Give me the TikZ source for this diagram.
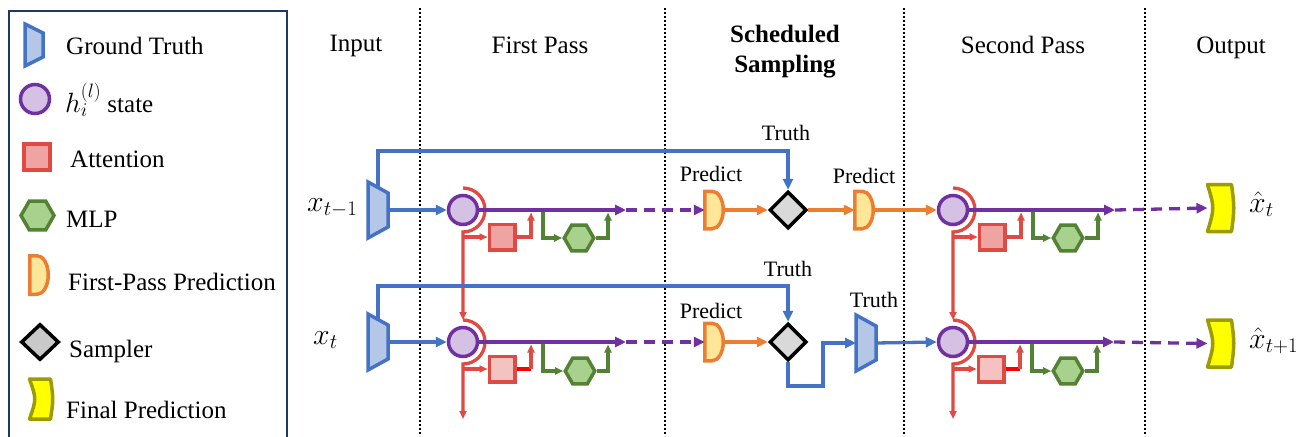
\documentclass[tikz,border=0pt]{standalone}
\usepackage{fontspec}
\setmainfont{Liberation Serif}
\usetikzlibrary{arrows.meta,shapes.geometric,calc}

\definecolor{gtblue}{HTML}{4472C4}
\definecolor{gtfill}{HTML}{B4C7E7}
\definecolor{hpurple}{HTML}{7030A0}
\definecolor{hfill}{HTML}{D5C1E4}
\definecolor{attred}{HTML}{DF4B43}
\definecolor{attfill}{HTML}{F0A3A3}
\definecolor{attfillB}{HTML}{F4C3C1}
\definecolor{hotred}{HTML}{FF0000}
\definecolor{mlpgreen}{HTML}{548235}
\definecolor{mlpfill}{HTML}{A9D18E}
\definecolor{fporange}{HTML}{ED7D31}
\definecolor{fpfill}{HTML}{FFE699}
\definecolor{sampfill}{HTML}{D9D9D9}
\definecolor{sampfillL}{HTML}{C9C9C9}
\definecolor{finyellow}{HTML}{FFFF00}
\definecolor{finolive}{HTML}{9C9C00}
\definecolor{legnavy}{HTML}{203864}

\tikzset{
  tipM/.tip={Triangle[length=11pt,width=10pt]},
  tipS/.tip={Triangle[length=8pt,width=7pt]},
  conn/.style={line width=3.3pt},
  blueline/.style={conn, draw=gtblue},
  purpleline/.style={conn, draw=hpurple},
  dashpurple/.style={conn, draw=hpurple, dash pattern=on 11pt off 7pt},
  orangeline/.style={conn, draw=fporange},
  redline/.style={conn, draw=attred},
  greenline/.style={conn, draw=mlpgreen},
  sepline/.style={line width=2pt, draw=black, dash pattern=on 2pt off 2pt},
  anchorbox/.style={inner sep=0pt, outer sep=0pt, draw=none},
  gtbox/.style={anchorbox, minimum width=20pt, minimum height=56pt},
  fpbox/.style={anchorbox, minimum width=18.5pt, minimum height=37.5pt},
  finalbox/.style={anchorbox, minimum width=24pt, minimum height=47pt},
  hstate/.style={circle, draw=hpurple, fill=hfill, line width=3.5pt, minimum size=29pt, inner sep=0pt},
  attbox/.style={rectangle, draw=attred, fill=attfill, line width=3.5pt, minimum size=25.5pt, inner sep=0pt},
  mlpbox/.style={regular polygon, regular polygon sides=6, draw=mlpgreen, fill=mlpfill, line width=3.5pt, minimum size=29.5pt, inner sep=0pt},
  sampbox/.style={diamond, draw=black, fill=sampfill, line width=3.5pt, minimum width=37pt, minimum height=37pt, inner sep=0pt},
  gtstroke/.style={draw=gtblue, fill=gtfill, line width=3.5pt},
  fpstroke/.style={draw=fporange, fill=fpfill, line width=3.5pt},
  finstroke/.style={draw=finolive, fill=finyellow, line width=3.5pt, line join=round},
  hdr/.style={font=\fontsize{25}{30}\selectfont, anchor=base, inner sep=0pt},
  lbl/.style={font=\fontsize{22}{26}\selectfont, anchor=base, inner sep=0pt},
  leg/.style={font=\fontsize{25}{30}\selectfont, anchor=base west, inner sep=0pt},
  mathlbl/.style={font=\fontsize{25}{30}\selectfont, anchor=base west, inner sep=0pt},
}

% ground-truth trapezoid: tall left side, right side cut by #2 at both ends
\newcommand\gtdraw[2]{\draw[gtstroke] (#1.north west) -- ([yshift=-#2pt]#1.north east)
  -- ([yshift=#2pt]#1.south east) -- (#1.south west) -- cycle;}
% first-pass prediction: flat left side, half-ellipse on the right
\newcommand\fpdraw[2]{\draw[fpstroke] (#1.north west) -- ([xshift=7.5pt]#1.north west)
  arc[x radius=11pt, y radius=#2pt, start angle=90, end angle=-90] -- (#1.south west) -- cycle;}
% final prediction: band bowed to the right
\newcommand\findraw[1]{\draw[finstroke] (#1.north west) -- (#1.north east)
  .. controls ([xshift=3pt]#1.east) .. (#1.south east) -- (#1.south west)
  .. controls ([xshift=7pt]#1.west) .. (#1.north west) -- cycle;}

\begin{document}
\begin{tikzpicture}[x=1pt,y=-1pt]
\useasboundingbox (0,0) rectangle (1305,436);
\fill[white] (0,0) rectangle (1305,436);

% ---------------- legend ----------------
\draw[legnavy, line width=2.5pt] (9,11) rectangle (287,450);
\node[gtbox, minimum width=18pt, minimum height=42pt] (lgGT) at (34,45) {};
\gtdraw{lgGT}{9}
\node[hstate] (lgH) at (35,99) {};
\node[attbox, minimum size=26pt] (lgAtt) at (37,157) {};
\node[mlpbox, minimum size=33pt] (lgMLP) at (37.5,215.5) {};
\node[fpbox, minimum height=38.5pt] (lgFP) at (39,275) {};
\fpdraw{lgFP}{19.25}
\node[sampbox, fill=sampfillL, minimum width=38pt, minimum height=36pt] (lgSam) at (40,342) {};
\node[finalbox, minimum width=21pt, minimum height=40pt] (lgFin) at (40,399) {};
\findraw{lgFin}

\node[leg] (lgtGT) at (66,55) {Ground Truth};
\node[leg] (lgtH) at (65,112) {\scalebox{1.12}{$h_i^{(l)}$}\ state};
\node[leg] (lgtAtt) at (70,167) {Attention};
\node[leg] (lgtMLP) at (66,227) {MLP};
\node[leg] (lgtFP) at (68,290) {First-Pass Prediction};
\node[leg] (lgtSam) at (69,357) {Sampler};
\node[leg] (lgtFin) at (66,418) {Final Prediction};

% ---------------- stage separators and headers ----------------
\draw[sepline] (420,8) -- (420,436);
\draw[sepline] (665,8) -- (665,436);
\draw[sepline] (904,8) -- (904,436);
\draw[sepline] (1145,8) -- (1145,436);

\node[hdr] (hdIn) at (356,52) {Input};
\node[hdr] (hdFirst) at (540,53) {First Pass};
\node[hdr, font=\fontsize{25}{30}\selectfont\bfseries] (hdSS1) at (785,43) {Scheduled};
\node[hdr, font=\fontsize{25}{30}\selectfont\bfseries] (hdSS2) at (785,73) {Sampling};
\node[hdr] (hdSecond) at (1023,53) {Second Pass};
\node[hdr] (hdOut) at (1231,54) {Output};

% ---------------- row t-1 ----------------
\node[gtbox] (gtA) at (378,210) {};
\gtdraw{gtA}{11}
\node[hstate] (hA) at (463,210) {};
\node[attbox] (attA) at (502,237) {};
\node[mlpbox] (mlpA) at (579,238) {};
\node[fpbox] (fpA) at (714,210) {};
\fpdraw{fpA}{18.75}
\node[sampbox] (smA) at (788,210) {};
\node[fpbox] (fpB) at (864,210) {};
\fpdraw{fpB}{18.75}
\node[hstate] (hC) at (953,210) {};
\node[attbox] (attC) at (992,237) {};
\node[mlpbox] (mlpC) at (1068,238) {};
\node[finalbox] (outA) at (1219.5,208) {};
\findraw{outA}

% ---------------- row t ----------------
\node[gtbox] (gtB) at (378,342) {};
\gtdraw{gtB}{11}
\node[hstate] (hB) at (463,342) {};
\node[attbox, fill=attfillB] (attB) at (502,369) {};
\node[mlpbox] (mlpB) at (580,371) {};
\node[fpbox] (fpC) at (714,342) {};
\fpdraw{fpC}{18.75}
\node[sampbox] (smB) at (788,342) {};
\node[gtbox] (gtC) at (866,343) {};
\gtdraw{gtC}{11}
\node[hstate] (hD) at (953,342) {};
\node[attbox, fill=attfillB] (attD) at (991,369) {};
\node[mlpbox] (mlpD) at (1068,371) {};
\node[finalbox] (outB) at (1219.5,343.5) {};
\findraw{outB}

% connector end points
\coordinate (peA) at (626,210);  \coordinate (peB) at (626,342);
\coordinate (peC) at (1115,210); \coordinate (peD) at (1114,342);
\coordinate (auA) at (531,212.5);  \coordinate (auB) at (531,344.5);
\coordinate (auC) at (1021,212.5); \coordinate (auD) at (1020,344.5);
\coordinate (mgA) at (543,210);  \coordinate (mgB) at (543,342);
\coordinate (mgC) at (1033,210); \coordinate (mgD) at (1032,342);
\coordinate (muA) at (608,212.5);  \coordinate (muB) at (608,344.5);
\coordinate (muC) at (1098,212.5); \coordinate (muD) at (1097,344.5);
\coordinate (trA) at (788,151); \coordinate (trB) at (788,286);
\coordinate (sbend) at (823,386);
\coordinate (rdB) at (463,419); \coordinate (rdD) at (953,419);

% residual stream (red) around each state
\draw[redline,-tipS] ([yshift=22pt]hA.center) arc[radius=22pt,start angle=90,end angle=-90] -- ([yshift=22pt]hB.center);
\draw[redline,-tipS] ([yshift=22pt]hB.center) arc[radius=22pt,start angle=90,end angle=-90] -- (rdB);
\draw[redline,-tipS] ([yshift=22pt]hC.center) arc[radius=22pt,start angle=90,end angle=-90] -- ([yshift=22pt]hD.center);
\draw[redline,-tipS] ([yshift=22pt]hD.center) arc[radius=22pt,start angle=90,end angle=-90] -- (rdD);

% attention branches
\draw[redline,-tipS] (hA |- attA) -- (attA.west);
\draw[redline,-tipS] (hB |- attB) -- (attB.west);
\draw[redline,-tipS] (hC |- attC) -- (attC.west);
\draw[redline,-tipS] (hD |- attD) -- (attD.west);
\draw[redline,-tipS] (attA.east) -| (auA);
\draw[redline,-tipS] (attC.east) -| (auC);
\draw[hotred, line width=3.8pt] (attB.east) -- (attB.east -| auB);
\draw[redline,-tipS] (attB.east -| auB) -- (auB);
\draw[hotred, line width=3.8pt] (attD.east) -- (attD.east -| auD);
\draw[redline,-tipS] (attD.east -| auD) -- (auD);

% MLP branches
\draw[greenline,-tipS] (mgA) |- (mlpA.west);
\draw[greenline,-tipS] (mgB) |- (mlpB.west);
\draw[greenline,-tipS] (mgC) |- (mlpC.west);
\draw[greenline,-tipS] (mgD) |- (mlpD.west);
\draw[greenline,-tipS] (mlpA.east) -| (muA);
\draw[greenline,-tipS] (mlpB.east) -| (muB);
\draw[greenline,-tipS] (mlpC.east) -| (muC);
\draw[greenline,-tipS] (mlpD.east) -| (muD);

% hidden-state streams
\draw[purpleline,-tipM] (hA.east) -- (peA);
\draw[dashpurple,-tipM] (peA) -- (fpA.west);
\draw[purpleline,-tipM] (hB.east) -- (peB);
\draw[dashpurple,-tipM] (peB) -- (fpC.west);
\draw[purpleline,-tipM] (hC.east) -- (peC);
\draw[dashpurple,-tipM] (peC) -- (outA.west);
\draw[purpleline,-tipM] (hD.east) -- (peD);
\draw[dashpurple,-tipM] (peD) -- (outB.west);

% predictions
\draw[orangeline,-tipM] (fpA.east) -- (smA.west);
\draw[orangeline,-tipM] (smA.east) -- (fpB.west);
\draw[orangeline,-tipM] (fpB.east) -- (hC.west);
\draw[orangeline,-tipM] (fpC.east) -- (smB.west);

% ground-truth paths
\draw[blueline,-tipM] (gtA.east) -- (hA.west);
\draw[blueline,-tipM] (gtB.east) -- (hB.west);
\draw[blueline,-tipM] ([yshift=-5.5pt]gtA.north) |- (trA) -- (smA.north);
\draw[blueline,-tipM] ([yshift=-5.5pt]gtB.north) |- (trB) -- (smB.north);
\draw[blueline,-tipM] (smB.south) |- (sbend) |- (gtC.west);
\draw[blueline,-tipM] (gtC.east) -- (hD.west);

% labels
\node[lbl] (tA) at (786,140) {Truth};
\node[lbl] (tB) at (788,276) {Truth};
\node[lbl] (tC) at (874,307) {Truth};
\node[lbl] (pA) at (711,181) {Predict};
\node[lbl] (pB) at (864,183) {Predict};
\node[lbl] (pC) at (711,318) {Predict};

\node[mathlbl] (xA) at (307,211) {\scalebox{1.2}{$x_{t-1}$}};
\node[mathlbl] (xB) at (313,344) {\scalebox{1.2}{$x_t$}};
\node[mathlbl] (yA) at (1249,212) {\scalebox{1.2}{$\hat{x}_t$}};
\node[mathlbl] (yB) at (1249,348) {\scalebox{1.2}{$\hat{x}_{t+1}$}};
\end{tikzpicture}
\end{document}
